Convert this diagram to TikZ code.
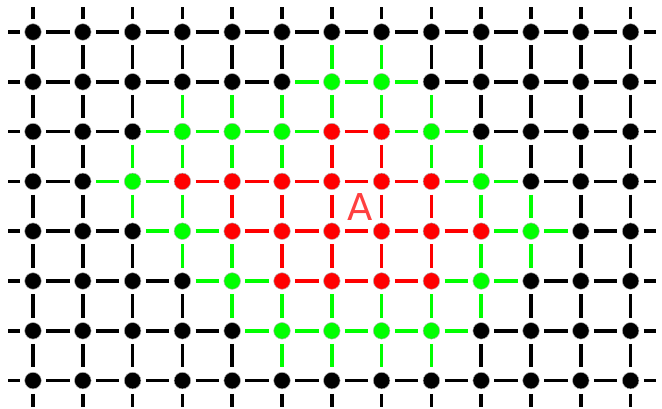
\documentclass[tikz,border=0pt]{standalone}
\usepackage{fontspec}
\newfontfamily\labelfont{DejaVu Sans}

\definecolor{sitegreen}{HTML}{00FF00}
\definecolor{sitered}{HTML}{FF0000}

% state of a site: 0 = black, 1 = green, 2 = red
\newcommand\sitestate[2]{\ifcsname st#1-#2\endcsname\csname st#1-#2\endcsname\else0\fi}
\newcommand\statecolor[1]{\ifcase#1 black\or sitegreen\or sitered\fi}
\newcommand\bondcolor[2]{\ifnum#1=1 sitegreen\else\ifnum#2=1 sitegreen\else\ifnum#1#2=22 sitered\else black\fi\fi\fi}

\begin{document}
\begin{tikzpicture}[x=1pt, y=-1pt,
  site/.style={circle, draw=gray!60, line width=0.5pt, minimum size=16.6pt, inner sep=0pt},
  bond/.style={line width=3.6pt, shorten <=4.6pt, shorten >=4.6pt}]

  \useasboundingbox (0,0) rectangle (662,409);

  % Green sites
  \foreach \c/\r in {6/1,7/1,3/2,4/2,5/2,8/2,2/3,9/3,3/4,10/4,4/5,9/5,5/6,6/6,7/6,8/6}
    {\expandafter\xdef\csname st\c-\r\endcsname{1}}

  % Red sites
  \foreach \c/\r in {6/2,7/2,3/3,4/3,5/3,6/3,7/3,8/3,4/4,5/4,6/4,7/4,8/4,9/4,5/5,6/5,7/5,8/5}
    {\expandafter\xdef\csname st\c-\r\endcsname{2}}

  % Sites
  \foreach \c in {0,...,12}
    \foreach \r in {0,...,7} {
      \edef\sa{\sitestate{\c}{\r}}
      \edef\scol{\statecolor{\sa}}
      \node[site, fill=\scol] (n\c-\r) at ({33+49.8*\c},{32+49.8*\r}) {};
    }

  % Horizontal bonds
  \foreach \c in {0,...,11}
    \foreach \r in {0,...,7} {
      \pgfmathtruncatemacro\d{\c+1}
      \edef\sa{\sitestate{\c}{\r}}
      \edef\sb{\sitestate{\d}{\r}}
      \edef\bcol{\bondcolor{\sa}{\sb}}
      \draw[bond, draw=\bcol] (n\c-\r) -- (n\d-\r);
    }

  % Vertical bonds
  \foreach \c in {0,...,12}
    \foreach \r in {0,...,6} {
      \pgfmathtruncatemacro\d{\r+1}
      \edef\sa{\sitestate{\c}{\r}}
      \edef\sb{\sitestate{\c}{\d}}
      \edef\bcol{\bondcolor{\sa}{\sb}}
      \draw[bond, draw=\bcol] (n\c-\r) -- (n\c-\d);
    }

  % Open bonds on the left and right
  \foreach \r in {0,...,7} {
    \coordinate (w\r) at (8,{32+49.8*\r});
    \coordinate (e\r) at (656,{32+49.8*\r});
    \draw[bond, shorten >=0pt] (n0-\r) -- (w\r);
    \draw[bond, shorten >=0pt] (n12-\r) -- (e\r);
  }

  % Open bonds on top and bottom
  \foreach \c in {0,...,12} {
    \coordinate (t\c) at ({33+49.8*\c},7);
    \coordinate (b\c) at ({33+49.8*\c},407);
    \draw[bond, shorten >=0pt] (n\c-0) -- (t\c);
    \draw[bond, shorten >=0pt] (n\c-7) -- (b\c);
  }

  % Cluster label
  \node[text=sitered, text opacity=0.75, font=\labelfont\fontsize{37}{37}\selectfont] (lbl) at (360,207) {A};

\end{tikzpicture}
\end{document}
